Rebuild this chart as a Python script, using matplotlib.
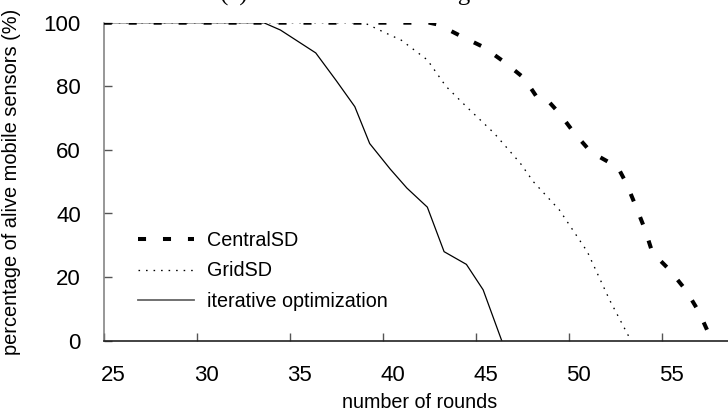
import matplotlib
matplotlib.use("Agg")
import matplotlib.pyplot as plt
import matplotlib.transforms as mtransforms

# survival curves: percentage of alive mobile sensors per round
central_x = [25, 42.5, 43.0, 44.2, 45.4, 46.5, 47.6, 48.3, 48.8, 49.5, 50.3,
             51.2, 52.2, 52.6, 53.1, 53.6, 54.1, 54.5, 55.4, 56.3, 57.0, 57.7]
central_y = [100, 100, 99.4, 95.8, 92.4, 87.8, 82.6, 76.5, 76.0, 71.5, 65.3,
             59.3, 56.0, 55.0, 49.5, 42.4, 35.0, 27.7, 22.4, 15.9, 9.1, 0]

grid_x = [25, 39.0, 40.0, 41.0, 42.4, 43.4, 44.5, 46.0, 47.4, 48.1, 49.5,
          51.0, 52.2, 53.35]
grid_y = [100, 100, 97.2, 94.5, 88.3, 80.0, 73.6, 65.2, 55.8, 50.0, 41.1,
          28.0, 12.8, 0]

iter_x = [25, 33.6, 34.5, 36.4, 37.5, 38.5, 39.3, 40.4, 41.3, 42.4, 43.3,
          44.5, 45.4, 46.4]
iter_y = [100, 100, 97.7, 90.5, 81.8, 73.6, 62.0, 54.0, 48.0, 42.0, 28.0,
          24.0, 16.0, 0]

x_ticks = [25, 30, 35, 40, 45, 50, 55]
y_ticks = [0, 20, 40, 60, 80, 100]

plt.rcParams['font.family'] = ['Liberation Sans', 'DejaVu Sans']

W, H = 728, 419
fig = plt.figure(figsize=(W / 100, H / 100), dpi=100)
ax = fig.add_axes([103.7 / W, 1 - 340.7 / H, 1 - 103.7 / W, (340.7 - 22.7) / H])

ax.plot(central_x, central_y, color='black', lw=2.9, dashes=(2, 4.2),
        dash_capstyle='butt', label='CentralSD', zorder=3)
ax.plot(grid_x, grid_y, color='black', lw=0.95, dashes=(1.2, 4.5),
        label='GridSD', zorder=2)
ax.plot(iter_x, iter_y, color='black', lw=0.9, label='iterative optimization',
        zorder=2)

ax.set_xlim(25, 25 + (W - 103.7) / 18.6)
ax.set_ylim(0, 100)
ax.set_xticks(x_ticks)
ax.set_yticks(y_ticks)

for s in ('top', 'right'):
    ax.spines[s].set_visible(False)
ax.spines['left'].set_color('#7a7a7a')
ax.spines['left'].set_linewidth(1.1)
ax.spines['bottom'].set_color('#222222')
ax.spines['bottom'].set_linewidth(1.2)

ax.tick_params(axis='both', direction='in', length=5.5, width=1.0,
               color='#555555', labelsize=16)
ax.tick_params(axis='y', pad=16.5)
ax.tick_params(axis='x', pad=17.5)

# round labels sit a little to the right of their ticks
shift = mtransforms.ScaledTranslation(0.10, 0, fig.dpi_scale_trans)
for lbl in ax.get_xticklabels():
    lbl.set_transform(lbl.get_transform() + shift)

ax.set_xlabel('number of rounds', fontsize=14.2)
ax.xaxis.set_label_coords(0.506, -0.163)
ax.set_ylabel('percentage of alive mobile sensors (%)', fontsize=14.4)
ax.yaxis.set_label_coords(-0.132, 0.5)

leg = ax.legend(loc='center left', bbox_to_anchor=(138 / W, 1 - 271 / H),
                bbox_transform=fig.transFigure, frameon=False, fontsize=14.2,
                handlelength=2.85, handletextpad=0.65, labelspacing=0.6,
                borderpad=0, borderaxespad=0)
leg.get_lines()[2].set_color('#666666')
leg.get_lines()[2].set_linewidth(1.3)

# panel caption sits above the plotting area, mostly outside the canvas
fig.text(385 / W, 1 - 0.5 / H, '(a) Alive ratio of moving sensors',
         family=['Liberation Serif', 'DejaVu Serif'], fontsize=18,
         ha='center', va='baseline')

fig.savefig('out.png', dpi=100)
